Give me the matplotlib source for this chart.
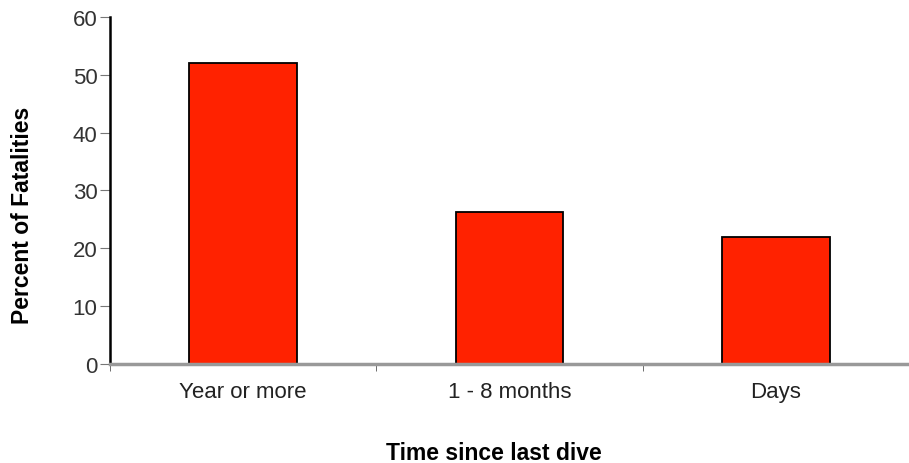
import numpy as np
import matplotlib.pyplot as plt

plt.rcParams['font.family'] = ['Liberation Sans', 'DejaVu Sans']

categories = ["Year or more", "1 - 8 months", "Days"]
percents = [52.0, 26.3, 22.0]
yticks = [0, 10, 20, 30, 40, 50, 60]

fig = plt.figure(figsize=(9.09, 4.64), dpi=100)
ax = fig.add_axes([0.121, 0.2134, 0.879, 0.7478])

x = np.arange(len(categories))
ax.bar(x, percents, width=0.405, color='#ff2200', edgecolor='black', linewidth=1.3, zorder=2)

ax.set_xlim(-0.5, 2.5)
ax.set_ylim(0, 60)
ax.set_yticks(yticks)
ax.set_yticklabels([str(t) for t in yticks], fontsize=16, color='#333333')

# category labels sit between the tick marks
ax.set_xticks(x)
ax.set_xticklabels(categories, fontsize=16, color='#222222')
ax.tick_params(axis='x', length=0, pad=12)
ax.set_xticks([-0.5, 0.5, 1.5, 2.5], minor=True)
ax.tick_params(axis='x', which='minor', length=5, direction='out', color='#555555')
ax.tick_params(axis='y', length=7, direction='out', color='#777777', pad=2)

ax.spines['top'].set_visible(False)
ax.spines['right'].set_visible(False)
ax.spines['left'].set_linewidth(1.8)
ax.spines['bottom'].set_color('#999999')
ax.spines['bottom'].set_linewidth(2.5)

ax.set_ylabel("Percent of Fatalities", fontsize=16.5, fontweight='bold')
ax.set_xlabel("Time since last dive", fontsize=16.5, fontweight='bold')
ax.yaxis.set_label_coords(-0.095, 0.43)
ax.xaxis.set_label_coords(0.481, -0.222)

fig.savefig("out.png", dpi=100)
